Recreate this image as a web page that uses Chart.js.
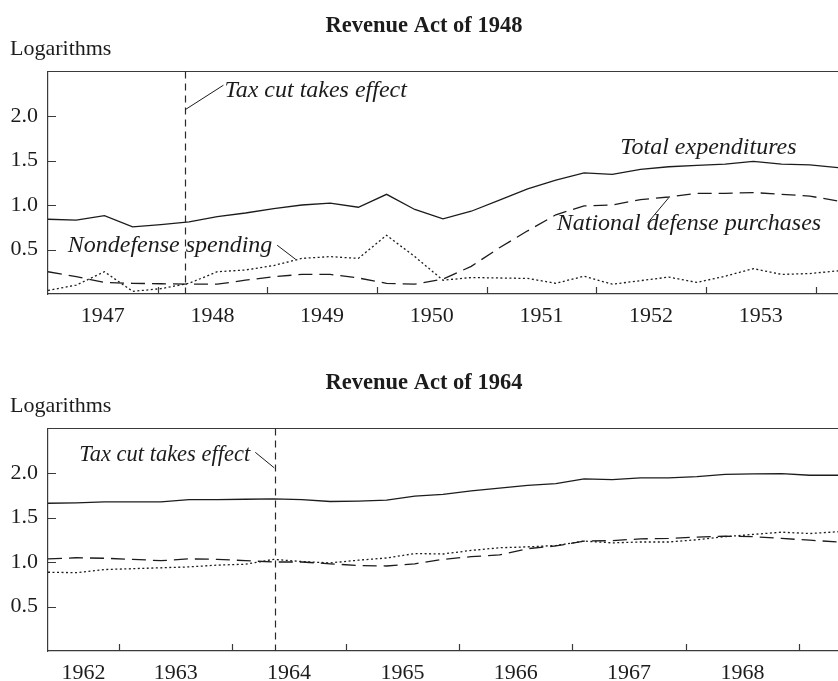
<!DOCTYPE html>
<html>
<head>
<meta charset="utf-8">
<script src="https://cdn.jsdelivr.net/npm/chart.js@4.4.0/dist/chart.umd.min.js"></script>
<style>
  html, body { margin: 0; padding: 0; background: #fff; width: 838px; height: 681px; overflow: hidden; }
  .panel { position: absolute; left: 0; width: 838px; height: 334px; }
</style>
</head>
<body>
<div class="panel" style="top:0"><canvas id="chart1948"></canvas></div>
<div class="panel" style="top:357px"><canvas id="chart1964"></canvas></div>
<script>
// Datos (logaritmos, trimestrales)
const quarters1948 = ["1947Q1","1947Q2","1947Q3","1947Q4","1948Q1","1948Q2","1948Q3","1948Q4",
  "1949Q1","1949Q2","1949Q3","1949Q4","1950Q1","1950Q2","1950Q3","1950Q4",
  "1951Q1","1951Q2","1951Q3","1951Q4","1952Q1","1952Q2","1952Q3","1952Q4",
  "1953Q1","1953Q2","1953Q3","1953Q4","1954Q1"];
const years1948 = [1947, 1948, 1949, 1950, 1951, 1952, 1953];
const total1948 = [0.84, 0.83, 0.88, 0.755, 0.78, 0.81, 0.87, 0.91, 0.96, 1.00, 1.02, 0.975, 1.12, 0.95,
  0.845, 0.93, 1.055, 1.18, 1.28, 1.36, 1.345, 1.40, 1.43, 1.445, 1.46, 1.49, 1.46, 1.45, 1.42];
const defense1948 = [0.25, 0.195, 0.13, 0.12, 0.115, 0.11, 0.11, 0.155, 0.195, 0.22, 0.22, 0.18, 0.12, 0.11,
  0.167, 0.31, 0.52, 0.71, 0.89, 0.99, 1.00, 1.06, 1.09, 1.13, 1.13, 1.14, 1.12, 1.10, 1.045];
const nondefense1948 = [0.04, 0.10, 0.25, 0.03, 0.06, 0.12, 0.25, 0.27, 0.32, 0.40, 0.42, 0.40, 0.66, 0.42,
  0.155, 0.185, 0.18, 0.175, 0.12, 0.20, 0.11, 0.15, 0.19, 0.13, 0.20, 0.285, 0.22, 0.23, 0.26];

const quarters1964 = ["1962Q2","1962Q3","1962Q4","1963Q1","1963Q2","1963Q3","1963Q4","1964Q1",
  "1964Q2","1964Q3","1964Q4","1965Q1","1965Q2","1965Q3","1965Q4","1966Q1",
  "1966Q2","1966Q3","1966Q4","1967Q1","1967Q2","1967Q3","1967Q4","1968Q1",
  "1968Q2","1968Q3","1968Q4","1969Q1","1969Q2"];
const years1964 = [1962, 1963, 1964, 1965, 1966, 1967, 1968];
const total1964 = [1.66, 1.665, 1.675, 1.675, 1.675, 1.70, 1.70, 1.705, 1.71, 1.70, 1.68, 1.685, 1.695, 1.74,
  1.76, 1.80, 1.83, 1.86, 1.88, 1.935, 1.925, 1.945, 1.945, 1.96, 1.985, 1.99, 1.993, 1.975, 1.975];
const defense1964 = [1.035, 1.048, 1.042, 1.03, 1.015, 1.035, 1.03, 1.015, 1.0, 1.0, 0.98, 0.96, 0.955, 0.98,
  1.03, 1.06, 1.08, 1.15, 1.18, 1.235, 1.24, 1.26, 1.265, 1.28, 1.29, 1.285, 1.265, 1.245, 1.225];
const nondefense1964 = [0.885, 0.88, 0.915, 0.925, 0.935, 0.945, 0.965, 0.975, 1.03, 1.005, 0.99, 1.02, 1.045, 1.095,
  1.09, 1.13, 1.16, 1.17, 1.185, 1.235, 1.215, 1.225, 1.225, 1.25, 1.285, 1.31, 1.335, 1.32, 1.34];

const yTicks = [0.5, 1.0, 1.5, 2.0];

const serif = "'Liberation Serif', 'Times New Roman', serif";
const ink = "#1c1c1c";
const frameColor = "#3a3a3a";

/* Marcas hacia adentro, borde superior, línea del recorte y anotaciones */
const marcasPlugin = {
  id: "marcas",
  afterDatasetsDraw(chart, args, opts) {
    const { ctx, chartArea: a, scales } = chart;
    const sx = scales.xAnio;
    const sy = scales.y;
    ctx.save();
    ctx.strokeStyle = frameColor;
    ctx.lineWidth = 1.2;
    ctx.beginPath();
    ctx.moveTo(a.left, a.top);
    ctx.lineTo(a.right, a.top);
    opts.years.forEach((y) => {
      const x = Math.round(sx.getPixelForValue(y + 1)) + 0.5;
      if (x < a.right - 2) {
        ctx.moveTo(x, a.bottom);
        ctx.lineTo(x, a.bottom - 7);
      }
    });
    yTicks.forEach((v) => {
      const y = Math.round(sy.getPixelForValue(v)) + 0.5;
      ctx.moveTo(a.left, y);
      ctx.lineTo(a.left + 8, y);
    });
    ctx.stroke();

    // línea vertical: entra en vigor el recorte
    const xc = Math.round(sx.getPixelForValue(opts.corte)) + 0.5;
    ctx.strokeStyle = "#2a2a2a";
    ctx.setLineDash([7, 5]);
    ctx.beginPath();
    ctx.moveTo(xc, a.top);
    ctx.lineTo(xc, a.bottom);
    ctx.stroke();
    ctx.setLineDash([]);

    ctx.lineWidth = 1;
    ctx.strokeStyle = ink;
    opts.guias.forEach((g) => {
      ctx.beginPath();
      ctx.moveTo(sx.getPixelForValue(g[0]), sy.getPixelForValue(g[1]));
      ctx.lineTo(sx.getPixelForValue(g[2]), sy.getPixelForValue(g[3]));
      ctx.stroke();
    });

    ctx.fillStyle = ink;
    ctx.textBaseline = "middle";
    opts.textos.forEach((t) => {
      ctx.font = "italic " + (t.size || 24) + "px " + serif;
      ctx.textAlign = t.align || "left";
      ctx.fillText(t.text, sx.getPixelForValue(t.yr), sy.getPixelForValue(t.v));
    });
    ctx.restore();
  },
};

const crearGrafico = (id, titulo, etiquetas, anios, rango, series, marcas) => {
  const canvas = document.getElementById(id);
  // etiqueta de cada año centrada en la parte visible del año
  const centroAnio = (a) => (Math.max(a, rango[0]) + Math.min(a + 1, rango[1])) / 2;
  return new Chart(canvas.getContext("2d"), {
    type: "line",
    data: {
      labels: etiquetas,
      datasets: series.map((s) => ({
        label: s.label,
        data: s.data,
        borderColor: ink,
        borderWidth: 1.3,
        borderDash: s.dash,
        pointRadius: 0,
        tension: 0,
        fill: false,
        xAxisID: "x",
        yAxisID: "y",
      })),
    },
    options: {
      responsive: true,
      maintainAspectRatio: false,
      animation: false,
      layout: { padding: { left: 10, right: 0, top: 0, bottom: 0 } },
      plugins: {
        legend: { display: false },
        tooltip: { enabled: false },
        title: {
          display: true,
          text: titulo,
          color: ink,
          font: { family: serif, size: 22.5, weight: "bold", lineHeight: 1 },
          padding: { top: 15, bottom: 1 },
        },
        subtitle: {
          display: true,
          text: "Logarithms",
          align: "start",
          color: ink,
          font: { family: serif, size: 22, lineHeight: 1 },
          padding: { top: 0, bottom: 11 },
        },
        marcas: marcas,
      },
      scales: {
        x: { type: "category", display: false, offset: false },
        xAnio: {
          type: "linear",
          axis: "x",
          position: "bottom",
          min: rango[0],
          max: rango[1],
          afterBuildTicks: (s) => { s.ticks = anios.map((a) => ({ value: centroAnio(a) })); },
          afterFit: (s) => { s.height = 40; },
          ticks: {
            callback: (v) => String(Math.floor(v)),
            color: ink,
            font: { family: serif, size: 22 },
            padding: 9,
            maxRotation: 0,
            autoSkip: false,
          },
          grid: { display: false, drawTicks: false },
          border: { display: true, color: frameColor, width: 1.2 },
        },
        y: {
          min: 0,
          max: 2.5,
          afterBuildTicks: (s) => { s.ticks = yTicks.map((v) => ({ value: v })); },
          afterFit: (s) => { s.width = 38; },
          ticks: {
            callback: (v) => v.toFixed(1),
            color: ink,
            font: { family: serif, size: 22 },
            padding: 10,
          },
          grid: { display: false, drawTicks: false },
          border: { display: true, color: frameColor, width: 1.2 },
        },
      },
    },
    plugins: [marcasPlugin],
  });
};

crearGrafico("chart1948", "Revenue Act of 1948", quarters1948, years1948, [1947.0, 1954.205], [
  { label: "Total expenditures", data: total1948, dash: [] },
  { label: "National defense purchases", data: defense1948, dash: [14, 7] },
  { label: "Nondefense spending", data: nondefense1948, dash: [2, 2.5] },
], {
  years: years1948,
  corte: 1948.25,
  guias: [[1948.25, 2.07, 1948.6, 2.346], [1952.47, 0.80, 1952.66, 1.08], [1949.09, 0.548, 1949.26, 0.388]],
  textos: [
    { text: "Tax cut takes effect", yr: 1948.61, v: 2.28 },
    { text: "Total expenditures", yr: 1952.22, v: 1.644 },
    { text: "National defense purchases", yr: 1951.64, v: 0.794 },
    { text: "Nondefense spending", yr: 1947.18, v: 0.543 },
  ],
});

crearGrafico("chart1964", "Revenue Act of 1964", quarters1964, years1964, [1962.373, 1969.343], [
  { label: "Total expenditures", data: total1964, dash: [] },
  { label: "National defense purchases", data: defense1964, dash: [14, 7] },
  { label: "Nondefense spending", data: nondefense1964, dash: [2, 2.5] },
], {
  years: years1964,
  corte: 1964.375,
  guias: [[1964.202, 2.232, 1964.37, 2.057]],
  textos: [
    { text: "Tax cut takes effect", yr: 1964.157, v: 2.206, align: "right", size: 22.5 },
  ],
});
</script>
</body>
</html>
